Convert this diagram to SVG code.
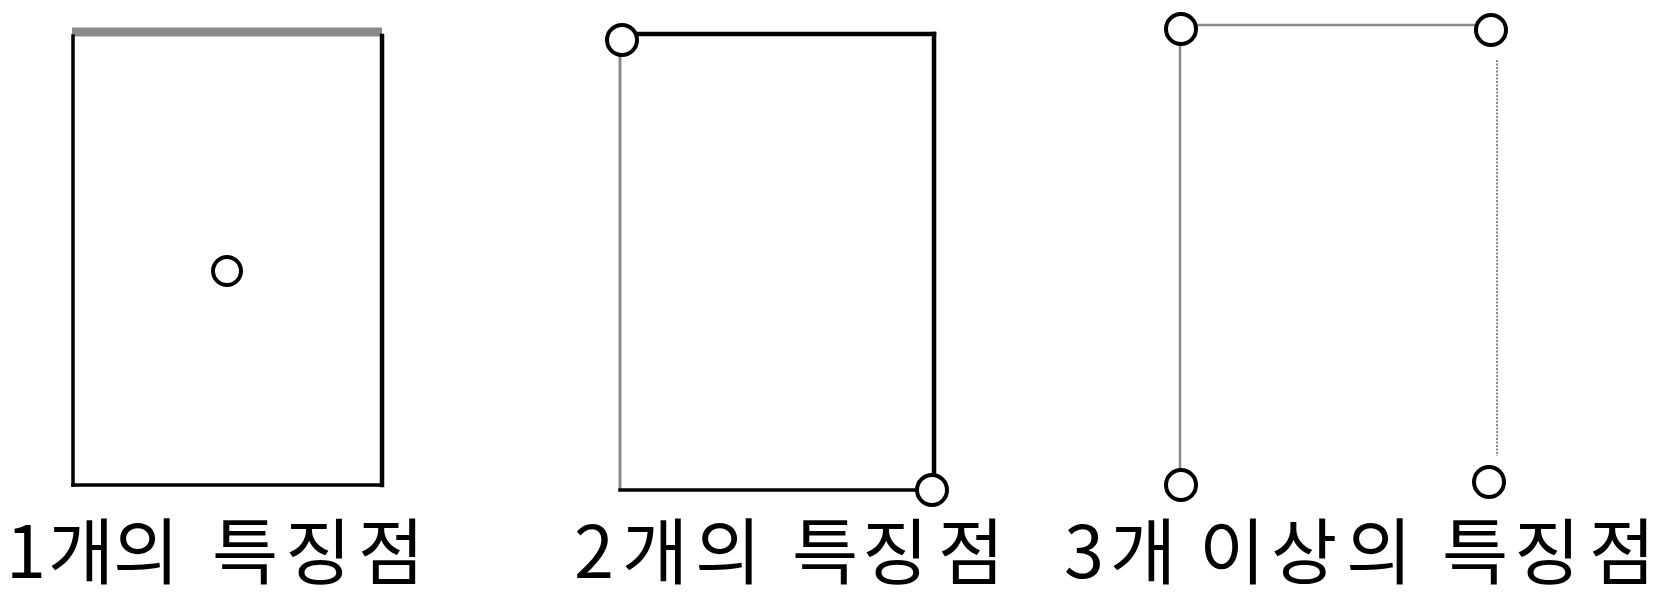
<svg xmlns="http://www.w3.org/2000/svg" width="1669" height="600" viewBox="0 0 1669 600">
<style>
.pt{fill:#fff;stroke:#000;stroke-width:4}
.lbl{font-family:"Noto Sans CJK KR","Noto Sans",sans-serif;font-size:72px;fill:#000}
.blk{stroke:#000;fill:none;stroke-linecap:square}
.gry{stroke:#8a8a8a;fill:none}
</style>
<rect width="1669" height="600" fill="#fff"/>
<g id="panel1">
  <line class="gry" x1="72" y1="32" x2="382" y2="32" stroke-width="9"/>
  <line class="blk" x1="73" y1="36" x2="73" y2="485" stroke-width="3.5"/>
  <line class="blk" x1="382" y1="36" x2="382" y2="485" stroke-width="4.5"/>
  <line class="blk" x1="73" y1="485" x2="382" y2="485" stroke-width="3.5"/>
  <circle class="pt" cx="227" cy="271" r="14"/>
  <text class="lbl" x="6 48 113 180 212 285 358" y="578">1개의 특징점</text>
</g>
<g id="panel2">
  <line class="gry" x1="620" y1="55" x2="620" y2="490" stroke-width="3" stroke="#666"/>
  <line class="blk" x1="637" y1="34" x2="934" y2="34" stroke-width="4.5"/>
  <line class="blk" x1="934" y1="34" x2="934" y2="474" stroke-width="4.5"/>
  <line class="blk" x1="620" y1="490" x2="916" y2="490" stroke-width="3.5"/>
  <circle class="pt" cx="622" cy="40" r="15"/>
  <circle class="pt" cx="932" cy="490" r="15"/>
  <text class="lbl" x="574 622 695 760 792 862 938" y="578">2개의 특징점</text>
</g>
<g id="panel3">
  <line class="gry" x1="1196" y1="25" x2="1476" y2="25" stroke-width="2.5"/>
  <line class="gry" x1="1180" y1="45" x2="1180" y2="469" stroke-width="2.5"/>
  <line class="gry" x1="1497" y1="60" x2="1497" y2="456" stroke-width="2" stroke="#777" stroke-dasharray="2 1.5"/>
  <circle class="pt" cx="1181" cy="29" r="15"/>
  <circle class="pt" cx="1491" cy="30" r="15"/>
  <circle class="pt" cx="1181" cy="485" r="15"/>
  <circle class="pt" cx="1489" cy="482" r="15"/>
  <text class="lbl" x="1064 1110 1170 1199 1271 1346 1410 1442 1514 1589" y="578">3개 이상의 특징점</text>
</g>
</svg>
